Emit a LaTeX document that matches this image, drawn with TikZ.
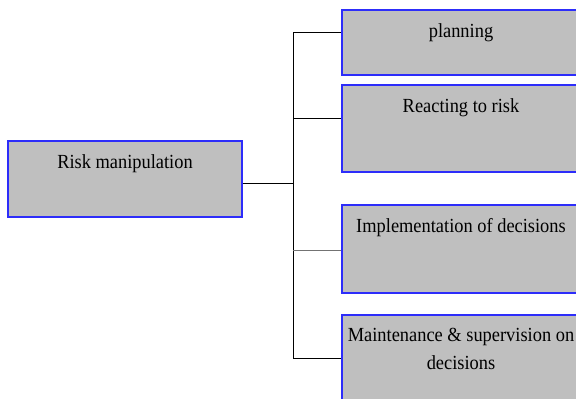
\documentclass[tikz,border=0pt]{standalone}
\usepackage{fontspec}
\setmainfont[FakeStretch=0.92]{Liberation Serif}
\usetikzlibrary{positioning}

\definecolor{edgeblue}{RGB}{45,45,250}
\def\boxw{238pt}
\def\trunkx{293}
\def\textdrop{-14pt}

\begin{document}
\begin{tikzpicture}[x=1pt,y=-1pt,
    box/.style={rectangle,draw=edgeblue,line width=1.3pt,fill=black!25,minimum width=\boxw,inner sep=0pt},
    txt/.style={font=\fontsize{20}{28}\selectfont,align=center,inner sep=0pt,anchor=north},
    link/.style={draw=black,line width=0.9pt},
]
\useasboundingbox (0,0) rectangle (576,399);

%% Main box on the left
\node[box,minimum width=234pt,minimum height=76pt] (risk) at (125,179) {};
\node[txt] (riskt) at ([yshift=\textdrop]risk.north) {Risk manipulation};

%% Branches on the right (cut off by the page edge)
\node[box,minimum height=65pt] (plan) at (461,42.5) {};
\node[txt] (plant) at ([yshift=\textdrop]plan.north) {planning};

\node[box,minimum height=87pt] (react) at (461,128.5) {};
\node[txt] (reactt) at ([yshift=\textdrop]react.north) {Reacting to risk};

\node[box,minimum height=88pt] (impl) at (461,249) {};
\node[txt] (implt) at ([yshift=\textdrop]impl.north) {Implementation of decisions};

\node[box,minimum height=95pt] (maint) at (461,362.5) {};
\node[txt] (maintt) at ([yshift=\textdrop]maint.north) {Maintenance \& supervision on\\decisions};

% Points where the branch lines meet the boxes
\coordinate (fork) at (\trunkx,183);
\coordinate (planin) at ([yshift=10.5pt]plan.west);
\coordinate (reactin) at ([yshift=10.5pt]react.west);
\coordinate (implin) at ([yshift=-1pt]impl.west);
\coordinate (maintin) at ([yshift=4.5pt]maint.west);

% Connectors
\draw[link] (risk.east |- fork) -- (fork);
\draw[link] (fork |- planin) -- (fork |- maintin);
\draw[link] (fork |- planin) -- (planin);
\draw[link] (fork |- reactin) -- (reactin);
\draw[link,draw=black!55,line width=0.6pt] (fork |- implin) -- (implin);
\draw[link] (fork |- maintin) -- (maintin);

\end{tikzpicture}
\end{document}
